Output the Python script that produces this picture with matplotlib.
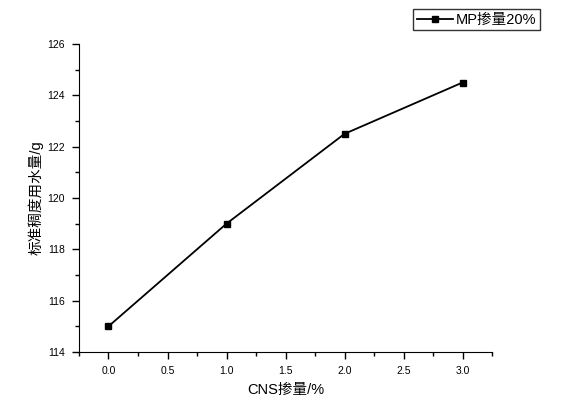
import matplotlib
matplotlib.use("Agg")
import matplotlib.pyplot as plt
from matplotlib.ticker import MultipleLocator

plt.rcParams['font.family'] = ['Liberation Sans', 'Noto Sans CJK SC', 'DejaVu Sans']

cns = [0.0, 1.0, 2.0, 3.0]
water = [115.0, 119.0, 122.5, 124.5]
series_label = "MP掺量20%"
xlabel = "CNS掺量/%"
ylabel = "标准稠度用水量/g"

fig = plt.figure(figsize=(5.63, 4.09), dpi=100)
ax = fig.add_axes([0.1403, 0.1394, 0.874 - 0.1403, 0.8924 - 0.1394])
ax.plot(cns, water, color='black', lw=1.3, marker='s', ms=5, label=series_label)
ax.set_xlim(-0.25, 3.25)
ax.set_ylim(114, 126)
ax.xaxis.set_major_locator(MultipleLocator(0.5))
ax.xaxis.set_minor_locator(MultipleLocator(0.25))
ax.yaxis.set_major_locator(MultipleLocator(2))
ax.yaxis.set_minor_locator(MultipleLocator(1))
ax.xaxis.set_major_formatter(matplotlib.ticker.FormatStrFormatter('%.1f'))
ax.spines['top'].set_visible(False)
ax.spines['right'].set_visible(False)
ax.tick_params(which='major', direction='out', length=5, width=1, labelsize=7.5, pad=5)
ax.tick_params(which='minor', direction='out', length=3, width=1)
ax.set_xlabel(xlabel, fontsize=10.5, labelpad=5)
ax.set_ylabel(ylabel, fontsize=10.5, labelpad=3)

leg = fig.legend(loc='upper left', bbox_to_anchor=(413/563, 1 - 9/409), fontsize=10.5,
                 frameon=True, fancybox=False, edgecolor='black', handlelength=2.5,
                 handletextpad=0.2, borderpad=0.25, borderaxespad=0)
leg.get_frame().set_linewidth(1)

fig.savefig('out.png', dpi=100)
